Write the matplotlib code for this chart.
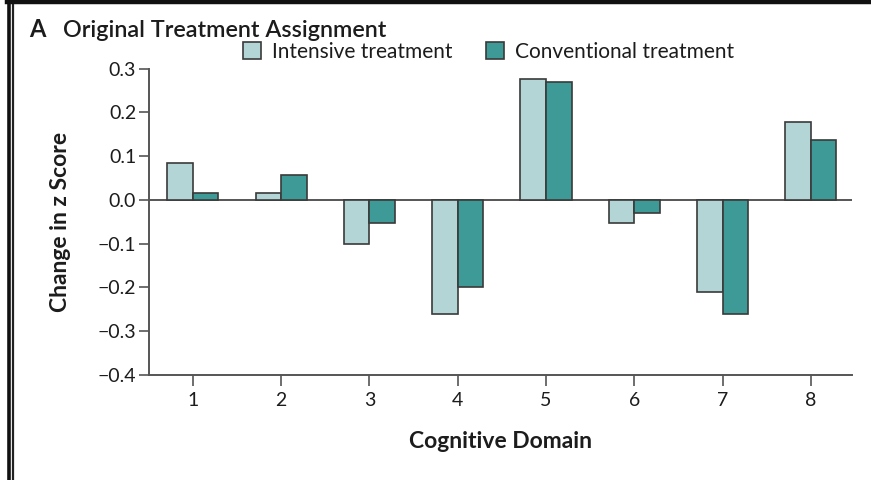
import numpy as np
import matplotlib
matplotlib.use("Agg")
import matplotlib.pyplot as plt
from matplotlib.patches import Patch
from matplotlib.lines import Line2D

plt.rcParams['font.family'] = ['Lato', 'DejaVu Sans']

# data
domains = [1, 2, 3, 4, 5, 6, 7, 8]
intensive = [0.085, 0.016, -0.102, -0.262, 0.277, -0.054, -0.211, 0.178]
conventional = [0.016, 0.057, -0.054, -0.200, 0.269, -0.029, -0.262, 0.137]
yticks = [-0.4, -0.3, -0.2, -0.1, 0.0, 0.1, 0.2, 0.3]
series_names = ["Intensive treatment", "Conventional treatment"]

col_int = '#b3d5d5'
col_conv = '#3e9a97'
edge = '#3a3a3a'
axis_col = '#555555'
text_col = '#1c1c1c'

W, H = 871, 480
fig = plt.figure(figsize=(W / 100, H / 100), dpi=100)
ax = fig.add_axes([148.7 / W, 1 - 374.7 / H, (852.3 - 148.7) / W, (374.7 - 68.7) / H])

x = np.array(domains, dtype=float)
bw = 0.29
ax.bar(x - bw / 2, intensive, bw, color=col_int, edgecolor=edge, linewidth=1.2, zorder=3)
ax.bar(x + bw / 2, conventional, bw, color=col_conv, edgecolor=edge, linewidth=1.2, zorder=3)
ax.axhline(0, color=axis_col, lw=1.4, zorder=2)

ax.set_xlim(0.5, 8.47)
ax.set_ylim(-0.4, 0.3)
ax.set_xticks(domains)
ax.set_yticks(yticks)
ax.set_yticklabels([f"{v:.1f}".replace('-', '\u2212') for v in yticks])

for s in ['top', 'right']:
    ax.spines[s].set_visible(False)
for s in ['left', 'bottom']:
    ax.spines[s].set_color(axis_col)
    ax.spines[s].set_linewidth(1.4)
ax.tick_params(axis='y', direction='out', length=7.5, width=1.2, color=axis_col,
               pad=1.5, labelsize=14, labelcolor=text_col)
ax.tick_params(axis='x', direction='out', length=8, width=1.2, color=axis_col,
               pad=4.5, labelsize=14, labelcolor=text_col)

ax.set_ylabel("Change in z Score", fontsize=16.5, fontweight='bold', color=text_col, va='center')
ax.yaxis.set_label_coords(-0.126, 0.5)
ax.set_xlabel("Cognitive Domain", fontsize=16.5, fontweight='bold', color=text_col, va='center')
ax.xaxis.set_label_coords(0.5, -(441 - 374.7) / 306)

# panel title
fig.text(29 / W, 1 - 37 / H, "A", fontsize=17, fontweight='bold', color=text_col, va='baseline')
fig.text(63 / W, 1 - 37 / H, "Original Treatment Assignment", fontsize=16.8,
         fontweight='semibold', color=text_col, va='baseline')

handles = [Patch(facecolor=col_int, edgecolor=edge, linewidth=1.2),
           Patch(facecolor=col_conv, edgecolor=edge, linewidth=1.2)]
fig.legend(handles, series_names, loc='center left', bbox_to_anchor=(243 / W, 1 - 52 / H),
           bbox_transform=fig.transFigure, ncol=2, frameon=False, fontsize=15,
           handlelength=0.85, handleheight=0.85, handletextpad=0.55, columnspacing=1.6,
           borderpad=0, borderaxespad=0, labelcolor=text_col)

# page border (left double rule and top rule)
fig.add_artist(Line2D([8.5 / W, 8.5 / W], [0, 1], transform=fig.transFigure, color='#111111', lw=2.6))
fig.add_artist(Line2D([13.2 / W, 13.2 / W], [0, 1 - 4 / H], transform=fig.transFigure, color='#222222', lw=1.6))
fig.add_artist(Line2D([7 / W, 1], [1 - 2 / H, 1 - 2 / H], transform=fig.transFigure, color='#111111', lw=3.2))

fig.savefig("out.png", dpi=100)
